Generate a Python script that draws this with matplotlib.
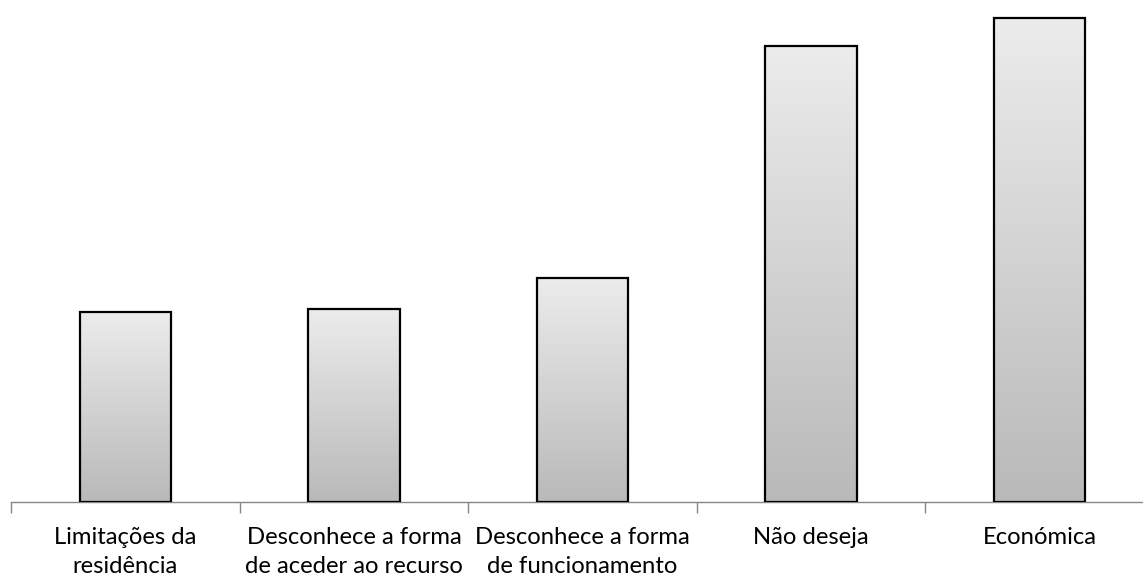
"""Barras com gradiente cinza por categoria de motivo."""

import matplotlib.pyplot as plt
import numpy as np


CATEGORIAS = [
    "Limitações da\nresidência",
    "Desconhece a forma\nde aceder ao recurso",
    "Desconhece a forma\nde funcionamento",
    "Não deseja",
    "Económica",
]
VALORES = [19.0, 19.3, 22.4, 45.6, 48.45]

LARGURA_BARRA = 0.40
COR_TOPO = "#ececec"
COR_BASE = "#b9b9b9"
COR_EIXO = "#868686"


def hex_rgb(cor):
    cor = cor.lstrip("#")
    return np.array([int(cor[i:i + 2], 16) / 255 for i in (0, 2, 4)])


def main():
    plt.rcParams["font.family"] = ["Lato", "DejaVu Sans"]

    fig = plt.figure(figsize=(11.43, 5.78), dpi=100)
    ax = fig.add_axes([11 / 1143, 1 - 502 / 578, 1143 / 1143, 502 / 578])

    x = np.arange(len(CATEGORIAS))
    barras = ax.bar(
        x,
        VALORES,
        width=LARGURA_BARRA,
        facecolor="none",
        edgecolor="black",
        linewidth=1.6,
        zorder=3,
    )

    # gradiente vertical de cada barra, recortado pelo retangulo
    t = np.linspace(0, 1, 256)[:, None]
    grad = (1 - t) * hex_rgb(COR_TOPO) + t * hex_rgb(COR_BASE)
    grad = grad[:, None, :]
    for barra in barras:
        x0 = barra.get_x()
        w = barra.get_width()
        h = barra.get_height()
        img = ax.imshow(
            grad,
            extent=(x0, x0 + w, 0, h),
            origin="upper",
            aspect="auto",
            zorder=2,
            interpolation="bilinear",
        )
        img.set_clip_path(barra)

    ax.set_xlim(-0.5, len(CATEGORIAS) - 0.5)
    ax.set_ylim(0, 50.2)

    for lado in ("top", "right", "left"):
        ax.spines[lado].set_visible(False)
    ax.spines["bottom"].set_color(COR_EIXO)
    ax.spines["bottom"].set_linewidth(1.0)

    ax.set_yticks([])
    ax.set_xticks(x)
    ax.set_xticklabels(CATEGORIAS, fontsize=17.2, color="black", linespacing=1.45)
    ax.tick_params(axis="x", which="major", length=0, pad=18)
    ax.set_xticks(np.arange(len(CATEGORIAS)) - 0.5, minor=True)
    ax.tick_params(axis="x", which="minor", length=8, width=1.0, color=COR_EIXO)

    fig.savefig("out.png", dpi=100)
    plt.close(fig)


if __name__ == "__main__":
    main()
